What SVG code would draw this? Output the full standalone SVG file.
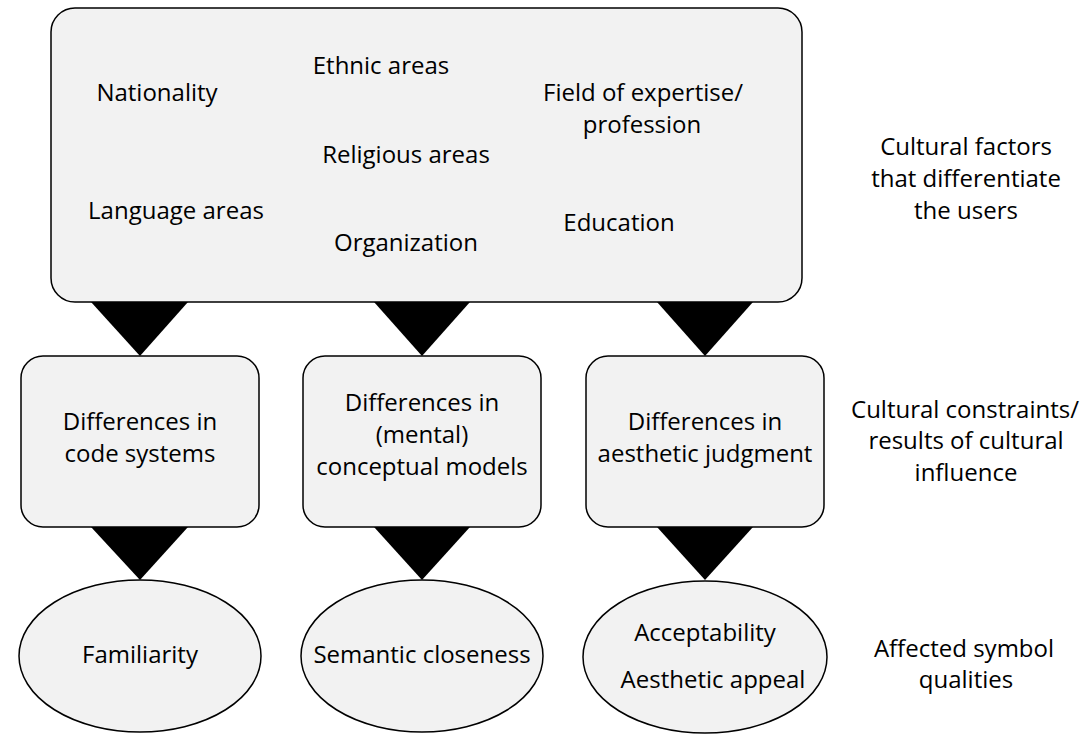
<svg xmlns="http://www.w3.org/2000/svg" width="1086" height="738" viewBox="0 0 1086 738">
<style>
.box{fill:#f2f2f2;stroke:#000;stroke-width:1.5}
.arr{fill:#000;stroke:none}
text{font-family:"Open Sans","Liberation Sans",sans-serif;font-size:24px;fill:#000;text-anchor:middle}
</style>
<rect width="1086" height="738" fill="#fff"/>
<g id="factors">
<rect class="box" x="51" y="8" width="751" height="294" rx="24"/>
<text x="157" y="101">Nationality</text>
<text x="381" y="74">Ethnic areas</text>
<text x="643" y="101">Field of expertise/</text>
<text x="642" y="133">profession</text>
<text x="406" y="163">Religious areas</text>
<text x="176" y="219">Language areas</text>
<text x="619" y="231">Education</text>
<text x="406" y="251">Organization</text>
</g>
<g id="label-factors">
<text x="966" y="155">Cultural factors</text>
<text x="966" y="187">that differentiate</text>
<text x="966" y="219">the users</text>
</g>
<g id="connectors">
<polygon class="arr" points="91,302 188,302 140,356"/>
<polygon class="arr" points="374,302 470,302 422,356"/>
<polygon class="arr" points="657,302 753,302 705,356"/>
<polygon class="arr" points="91,527 188,527 140,580"/>
<polygon class="arr" points="374,527 470,527 422,580"/>
<polygon class="arr" points="657,527 753,527 705,580"/>
</g>
<g id="code-systems">
<rect class="box" x="21" y="356" width="238" height="171" rx="22"/>
<text x="140" y="430">Differences in</text>
<text x="140" y="462">code systems</text>
</g>
<g id="conceptual-models">
<rect class="box" x="303" y="356" width="238" height="171" rx="22"/>
<text x="422" y="411">Differences in</text>
<text x="422" y="443">(mental)</text>
<text x="422" y="475">conceptual models</text>
</g>
<g id="aesthetic-judgment">
<rect class="box" x="586" y="356" width="238" height="171" rx="22"/>
<text x="705" y="430">Differences in</text>
<text x="705" y="462">aesthetic judgment</text>
</g>
<g id="label-constraints">
<text x="965" y="418">Cultural constraints/</text>
<text x="966" y="449">results of cultural</text>
<text x="966" y="481">influence</text>
</g>
<g id="familiarity">
<ellipse class="box" cx="140" cy="656" rx="121" ry="76"/>
<text x="140" y="663">Familiarity</text>
</g>
<g id="semantic-closeness">
<ellipse class="box" cx="422" cy="656" rx="121" ry="76"/>
<text x="422" y="663">Semantic closeness</text>
</g>
<g id="acceptability">
<ellipse class="box" cx="705" cy="657" rx="122" ry="76"/>
<text x="705" y="641">Acceptability</text>
<text x="713" y="688">Aesthetic appeal</text>
</g>
<g id="label-qualities">
<text x="964" y="657">Affected symbol</text>
<text x="966" y="688">qualities</text>
</g>
</svg>
